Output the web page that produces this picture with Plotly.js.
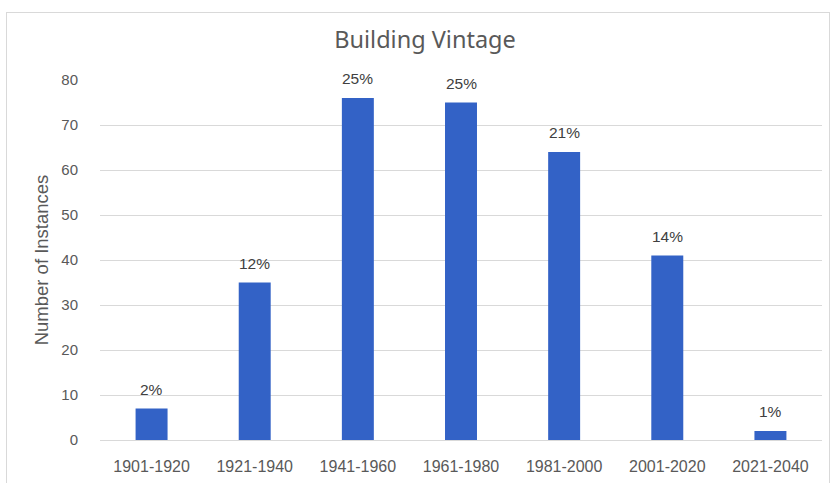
<!DOCTYPE html>
<html>
<head>
<meta charset="utf-8">
<script src="https://cdn.plot.ly/plotly-3.0.1.min.js"></script>
<style>
  html, body { margin: 0; padding: 0; background: #ffffff; }
  #wrap { position: relative; width: 835px; height: 483px; overflow: hidden; }
  #frame { position: absolute; left: 6px; top: 12px; width: 824px; height: 480px; border: 1px solid #d9d9d9; box-sizing: border-box; pointer-events: none; }
  #chart { position: absolute; left: 0; top: 0; width: 835px; height: 483px; }
</style>
</head>
<body>
<div id="wrap">
  <div id="chart"></div>
  <div id="frame"></div>
</div>
<script>
const categories = ["1901-1920", "1921-1940", "1941-1960", "1961-1980", "1981-2000", "2001-2020", "2021-2040"];
const counts = [7, 35, 76, 75, 64, 41, 2];
const percentLabels = ["2%", "12%", "25%", "25%", "21%", "14%", "1%"];
const yTicks = [0, 10, 20, 30, 40, 50, 60, 70, 80];

const labelFont = { family: "Liberation Sans, Arial, sans-serif", size: 15.5, color: "#404040" };

const trace = {
  type: "bar",
  x: categories,
  y: counts,
  cliponaxis: false,
  marker: { color: "#3362C6" },
  hoverinfo: "x+y"
};

const annotations = categories.map((c, i) => ({
  x: c,
  y: counts[i],
  xref: "x",
  yref: "y",
  text: percentLabels[i],
  showarrow: false,
  yanchor: "bottom",
  yshift: 9,
  font: labelFont
}));

const layout = {
  width: 835,
  height: 483,
  margin: { l: 100, r: 13, t: 80, b: 43 },
  paper_bgcolor: "#ffffff",
  plot_bgcolor: "#ffffff",
  bargap: 0.69,
  showlegend: false,
  annotations: annotations,
  title: {
    text: "Building Vintage",
    x: 0.509,
    xanchor: "center",
    y: 0.917,
    yanchor: "middle",
    font: { family: "Noto Sans, sans-serif", size: 23.5, color: "#595959" }
  },
  xaxis: {
    type: "category",
    showgrid: false,
    zeroline: false,
    showline: false,
    ticks: "outside",
    ticklen: 12,
    tickcolor: "rgba(0,0,0,0)",
    tickfont: { family: "Liberation Sans, Arial, sans-serif", size: 16, color: "#595959" }
  },
  yaxis: {
    range: [0, 80],
    tickvals: yTicks,
    ticktext: yTicks.map(String),
    showgrid: true,
    gridcolor: "#d9d9d9",
    gridwidth: 1,
    zeroline: true,
    zerolinecolor: "#d9d9d9",
    showline: false,
    ticks: "outside",
    ticklen: 18,
    tickcolor: "rgba(0,0,0,0)",
    tickfont: { family: "Liberation Sans, Arial, sans-serif", size: 15, color: "#595959" },
    title: {
      text: "Number of Instances",
      standoff: 7,
      font: { family: "Liberation Sans, Arial, sans-serif", size: 18.5, color: "#595959" }
    }
  }
};

Plotly.newPlot("chart", [trace], layout, { displayModeBar: false, staticPlot: true });
</script>
</body>
</html>
